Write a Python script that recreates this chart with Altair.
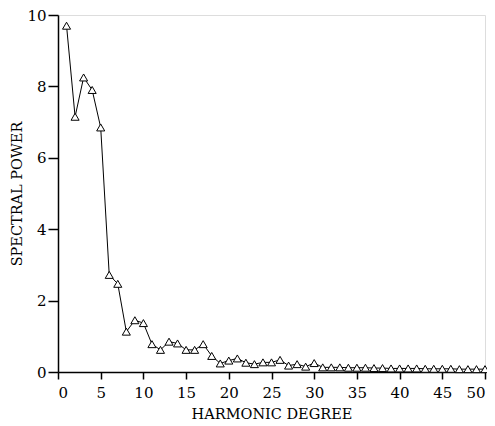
import altair as alt
import pandas as pd

degree = list(range(1, 51))
power = [9.7, 7.15, 8.25, 7.9, 6.85, 2.72, 2.47, 1.13, 1.45, 1.37,
         0.78, 0.62, 0.85, 0.8, 0.62, 0.62, 0.78, 0.45, 0.24, 0.32,
         0.38, 0.26, 0.22, 0.27, 0.27, 0.34, 0.18, 0.22, 0.15, 0.25,
         0.13, 0.13, 0.13, 0.12, 0.12, 0.12, 0.11, 0.11, 0.1, 0.1,
         0.1, 0.1, 0.09, 0.09, 0.09, 0.09, 0.08, 0.08, 0.08, 0.08]

df = pd.DataFrame({"degree": degree, "power": power})

font = "DejaVu Serif"

x = alt.X("degree:Q", scale=alt.Scale(domain=[0, 50], nice=False),
          axis=alt.Axis(title="HARMONIC DEGREE", values=list(range(0, 51, 5)),
                        grid=False, tickSize=7, domainColor="black", tickColor="black",
                        labelColor="black", titleColor="black", labelFontSize=15,
                        titleFontSize=14.5, titleFontWeight="normal", labelFont=font,
                        titleFont=font, labelPadding=6, titlePadding=7,
                        domainWidth=1.5, tickWidth=1.5))
y = alt.Y("power:Q", scale=alt.Scale(domain=[0, 10], nice=False),
          axis=alt.Axis(title="SPECTRAL POWER", values=[0, 2, 4, 6, 8, 10],
                        grid=False, tickSize=10, domainColor="black", tickColor="black",
                        labelColor="black", titleColor="black", labelFontSize=15,
                        titleFontSize=14.5, titleFontWeight="normal", labelFont=font,
                        titleFont=font, labelPadding=2, titlePadding=2,
                        domainWidth=1.5, tickWidth=1.5))

line = alt.Chart(df).mark_line(color="black", strokeWidth=1).encode(x=x, y=y)
pts = alt.Chart(df).mark_point(shape="triangle-up", size=65, filled=True,
                               fill="white", stroke="black", strokeWidth=1,
                               opacity=1).encode(x=x, y=y)

chart = (line + pts).properties(
    width=427, height=357,
    autosize=alt.AutoSizeParams(type="none"),
    padding={"left": 50, "top": 7, "right": 2, "bottom": 52},
).configure_view(stroke=None).configure(background="white")

chart.save("out.html", embed_options={"renderer": "svg", "actions": False})
